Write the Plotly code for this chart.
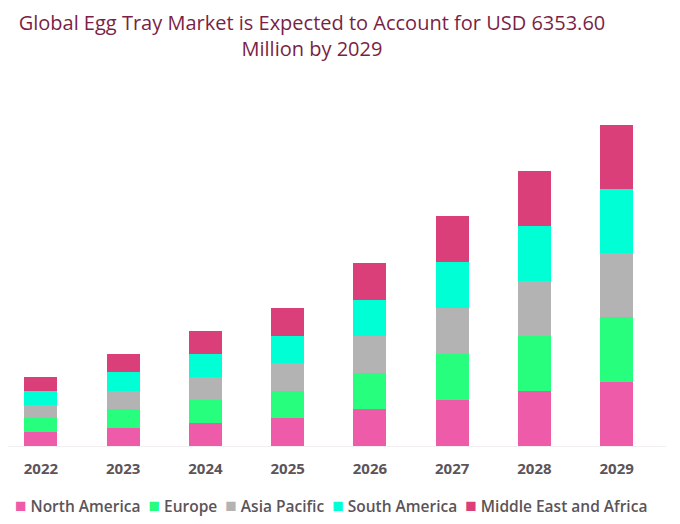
import plotly.graph_objects as go

years = ["2022", "2023", "2024", "2025", "2026", "2027", "2028", "2029"]
north_america = [275, 366, 455, 548, 726, 910, 1090, 1272]
europe = [272, 364, 457, 545, 722, 912, 1088, 1275]
asia_pacific = [270, 362, 454, 546, 724, 908, 1089, 1268]
south_america = [275, 365, 455, 547, 726, 911, 1088, 1270]
mea = [274, 364, 455, 545, 724, 911, 1088, 1268]

series = [
    ("North America", north_america, "#EE5BA8"),
    ("Europe", europe, "#27FE7E"),
    ("Asia Pacific", asia_pacific, "#B3B3B3"),
    ("South America", south_america, "#00FFD5"),
    ("Middle East and Africa", mea, "#DB3F79"),
]

fig = go.Figure()
for name, vals, col in series:
    fig.add_trace(go.Bar(x=years, y=vals, name=name, marker=dict(color=col, line=dict(width=0))))

legend_text = "  ".join(
    f'<span style="color:{col};font-size:19px">■</span> {name}' for name, _, col in series
)
fig.add_annotation(
    text=legend_text, xref="paper", yref="paper", x=0.491, y=-0.1746,
    xanchor="center", yanchor="middle", showarrow=False,
    font=dict(size=15.5, color="#5B5459", family="Open Sans, sans-serif", weight=600),
)

fig.update_layout(
    width=680, height=524,
    barmode="stack", bargap=0.6,
    paper_bgcolor="white", plot_bgcolor="white",
    font=dict(family="Open Sans, sans-serif", color="#5B5459"),
    title=dict(
        text="Global Egg Tray Market is Expected to Account for USD 6353.60<br>Million by 2029",
        x=0.447, xanchor="center", xref="container",
        y=0.958, yanchor="top", yref="container",
        font=dict(size=20, color="#7A1F45", family="Open Sans, sans-serif"),
    ),
    margin=dict(l=0, r=22, t=100, b=86),
    xaxis=dict(showgrid=False, showline=True, linecolor="#F3EEF2", linewidth=1,
               range=[-0.4, 7.6],
               tickfont=dict(size=15, color="#5B5459", family="Open Sans, sans-serif", weight=700),
               ticks="", ticklabelstandoff=9),
    yaxis=dict(visible=False, range=[0, 6690]),
    showlegend=False,
)

fig.write_html("out.html")
